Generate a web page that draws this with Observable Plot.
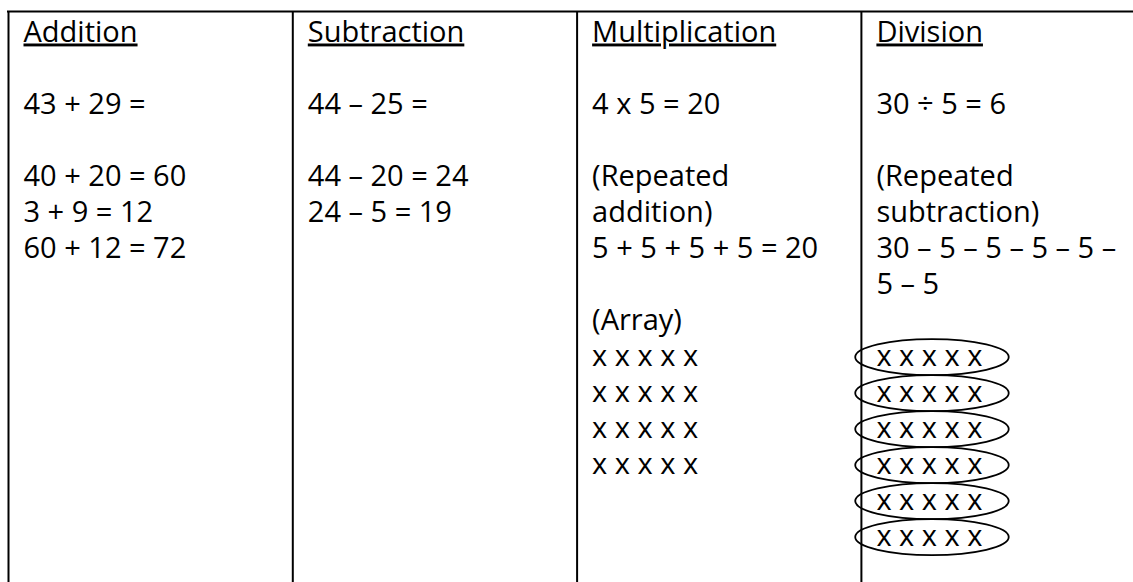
<!DOCTYPE html>
<html>
<head>
<meta charset="utf-8">
<script src="https://cdn.jsdelivr.net/npm/d3@7"></script>
<script src="https://cdn.jsdelivr.net/npm/@observablehq/plot@0.6"></script>
<style>
  html, body { margin: 0; padding: 0; background: #fff; overflow: hidden; }
  #chart svg { display: block; }
</style>
</head>
<body>
<div id="chart"></div>
<script>
// ---- Content (line by line, below each column heading; "" = blank line) ----
const headers = ["Addition", "Subtraction", "Multiplication", "Division"];

const additionLines = ["", "43 + 29 =", "", "40 + 20 = 60", "3 + 9 = 12", "60 + 12 = 72"];
const subtractionLines = ["", "44 – 25 =", "", "44 – 20 = 24", "24 – 5 = 19"];
const multiplicationLines = ["", "4 x 5 = 20", "", "(Repeated", "addition)", "5 + 5 + 5 + 5 = 20", "",
  "(Array)", "x x x x x", "x x x x x", "x x x x x", "x x x x x"];
const divisionLines = ["", "30 ÷ 5 = 6", "", "(Repeated", "subtraction)", "30 – 5 – 5 – 5 – 5 –", "5 – 5", "",
  "x x x x x", "x x x x x", "x x x x x", "x x x x x", "x x x x x", "x x x x x"];

// which division lines are circled groups
const circledGroup = "x x x x x";

// ---- Build tables for the marks ----
const columns = [additionLines, subtractionLines, multiplicationLines, divisionLines];
const headerRows = headers.map((h, col) => ({col, line: 0, text: h}));
const bodyRows = columns.flatMap((lines, col) =>
  lines.map((text, i) => ({col, line: i + 1, text})).filter(d => d.text !== ""));
const groupRows = divisionLines
  .map((text, i) => ({col: 3, line: i + 1, text}))
  .filter(d => d.text === circledGroup);

const FONT = "'Open Sans', 'DejaVu Sans', sans-serif";
const lastLine = 15;
const topLine = -0.83;

const svg = Plot.plot({
  width: 1133,
  height: 582,
  margin: 0,
  x: {domain: [0, 4], range: [8, 8 + 4 * 284.3], axis: null},
  y: {domain: [0, lastLine], range: [41, 41 + 36 * lastLine], axis: null},
  style: {fontFamily: FONT, background: "#fff", color: "#000"},
  marks: [
    // table grid
    Plot.ruleY([topLine], {x1: 0, x2: 4, stroke: "#000", strokeWidth: 2, strokeLinecap: "square"}),
    Plot.ruleX(d3.range(headers.length), {y1: topLine, y2: lastLine + 1, stroke: "#000", strokeWidth: 2}),
    // circled groups (repeated subtraction)
    Plot.rect(groupRows, {
      x1: d => d.col - 0.02, x2: d => d.col + 0.52,
      y1: d => d.line - 0.72, y2: d => d.line + 0.28,
      rx: 200, ry: 40,
      fill: "none", stroke: "#000", strokeWidth: 1.8
    }),
    // headings
    Plot.text(headerRows, {
      x: "col", y: "line", text: "text",
      textAnchor: "start", lineAnchor: "bottom", dx: 15,
      fontSize: 29, fill: "#000"
    }),
    // body lines
    Plot.text(bodyRows, {
      x: "col", y: "line", text: "text",
      textAnchor: "start", lineAnchor: "bottom", dx: 15,
      fontSize: 29, fill: "#000"
    })
  ]
});

d3.select(svg).selectAll("text")
  .filter(function () { return headers.includes(this.textContent); })
  .style("text-decoration", "underline");

document.getElementById("chart").appendChild(svg);
</script>
</body>
</html>
